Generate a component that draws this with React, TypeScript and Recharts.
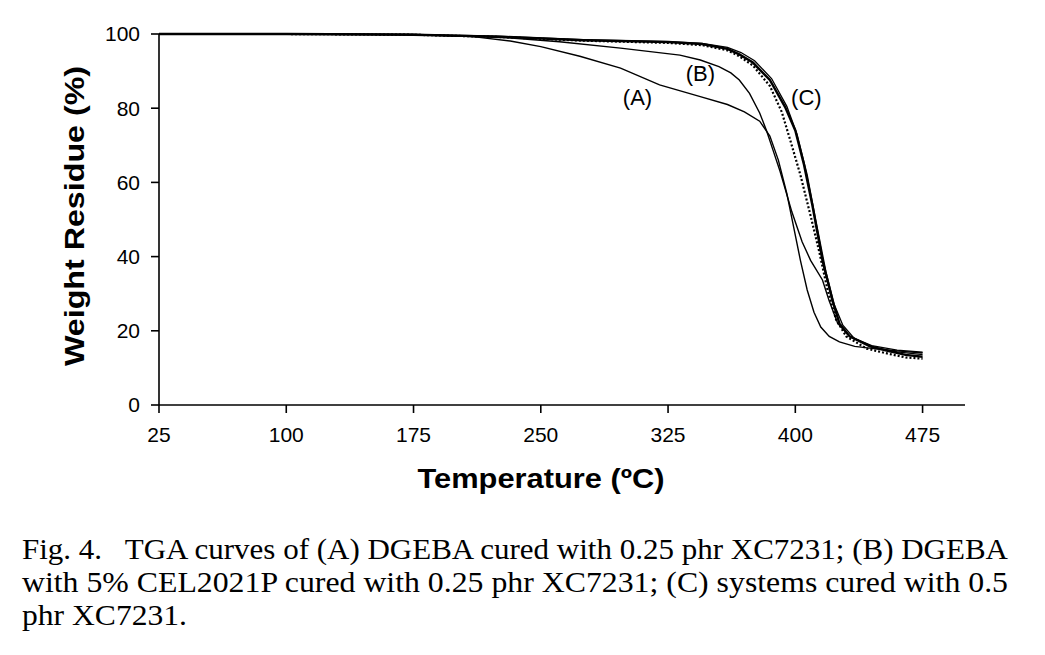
import { LineChart, Line, XAxis, YAxis, ReferenceDot } from "recharts"

// temperatures (°C) and weight residue (%)
const tempA = [25, 100, 175, 210, 232, 250, 273, 297, 320, 344, 360, 370, 379, 385, 390, 395, 399, 403, 407, 411, 415, 420, 426, 435, 450, 465, 475]
const weightA = [100, 100, 99.8, 99.3, 98.1, 96.6, 94, 90.8, 86.3, 83.1, 81, 79, 76.5, 72.5, 66, 57, 48, 39, 31, 25, 21, 18.5, 17, 15.8, 15, 14.4, 14]

const tempB = [25, 100, 175, 230, 261, 297, 332, 344, 355, 362, 367, 373, 379, 383, 387, 391, 398, 404, 409, 416, 420, 425, 432, 445, 460, 475]
const weightB = [100, 100, 99.9, 99, 97.9, 96.2, 94.3, 93, 91.2, 89.5, 87.6, 84, 78.7, 74, 68.5, 63, 52, 44, 39, 33.7, 28, 22, 18.5, 16, 14.8, 14.2]

const tempC1 = [25, 100, 175, 225, 275, 325, 345, 360, 367, 375, 385, 394, 400, 405, 410, 416, 422, 426, 432, 444, 455, 465, 475]
const weightC1 = [100, 100, 99.8, 99.3, 98.3, 97.8, 97.3, 96, 94.5, 92.3, 87.6, 80.3, 74, 65, 54, 39, 28, 22, 18.5, 15.8, 14.5, 13.5, 13]

const tempC2 = [25, 100, 175, 225, 275, 325, 345, 360, 367, 375, 385, 392, 397, 403, 409, 414, 419, 424, 430, 442, 455, 465, 475]
const weightC2 = [100, 100, 99.8, 99.2, 98.2, 97.6, 97, 95.6, 94, 91.5, 86, 79, 71.4, 62, 51, 41.5, 31, 23, 18.5, 15.2, 13.8, 12.8, 12.5]

const tempC3 = [25, 100, 175, 225, 275, 325, 345, 360, 368, 376, 386, 395, 401, 407, 412, 418, 423, 428, 435, 447, 460, 475]
const weightC3 = [100, 100, 99.9, 99.4, 98.5, 98, 97.5, 96.4, 95, 92.8, 88, 80.5, 73, 62, 50, 36, 27, 21.5, 17.8, 15.5, 14.3, 13.6]

const xTicks = [25, 100, 175, 250, 325, 400, 475]
const yTicks = [0, 20, 40, 60, 80, 100]

const curveLabels = [
  { t: 307, w: 83, text: "(A)" },
  { t: 344, w: 89.5, text: "(B)" },
  { t: 406.5, w: 83, text: "(C)" },
]

const captionLines = [
  "Fig. 4.   TGA curves of (A) DGEBA cured with 0.25 phr XC7231; (B) DGEBA",
  "with 5% CEL2021P cured with 0.25 phr XC7231; (C) systems cured with 0.5",
  "phr XC7231.",
]

const toRows = (t: number[], w: number[]) => t.map((v, i) => ({ t: v, w: w[i] }))

const SANS = "'Liberation Sans', Arial, sans-serif"
const SERIF = "'Liberation Serif', 'Times New Roman', serif"

export default function App() {
  const tickStyle = { fill: "#000", fontSize: 21, fontFamily: SANS }
  return (
    <div style={{ position: "absolute", left: 0, top: 0, width: 1045, height: 655, background: "#fff" }}>
      <LineChart width={1045} height={500} margin={{ top: 34, right: 80, bottom: 0, left: 0 }}>
        <XAxis
          type="number"
          dataKey="t"
          domain={[25, 500]}
          ticks={xTicks}
          allowDataOverflow
          height={95}
          tickSize={8}
          tickMargin={14}
          tick={tickStyle}
          axisLine={{ stroke: "#000", strokeWidth: 1.6 }}
          tickLine={{ stroke: "#000", strokeWidth: 1.6 }}
        />
        <YAxis
          type="number"
          domain={[0, 100]}
          ticks={yTicks}
          width={159}
          tickSize={8}
          tickMargin={11}
          tick={tickStyle}
          axisLine={{ stroke: "#000", strokeWidth: 1.6 }}
          tickLine={{ stroke: "#000", strokeWidth: 1.6 }}
        />
        <Line data={toRows(tempA, weightA)} dataKey="w" type="linear" stroke="#000" strokeWidth={1.4} dot={false} isAnimationActive={false} />
        <Line data={toRows(tempB, weightB)} dataKey="w" type="linear" stroke="#000" strokeWidth={1.4} dot={false} isAnimationActive={false} />
        <Line data={toRows(tempC3, weightC3)} dataKey="w" type="linear" stroke="#000" strokeWidth={1.3} dot={false} isAnimationActive={false} />
        <Line data={toRows(tempC2, weightC2)} dataKey="w" type="linear" stroke="#000" strokeWidth={2.2} strokeDasharray="2 2" dot={false} isAnimationActive={false} />
        <Line data={toRows(tempC1, weightC1)} dataKey="w" type="linear" stroke="#000" strokeWidth={2.4} dot={false} isAnimationActive={false} />
        {curveLabels.map((c) => (
          <ReferenceDot
            key={c.text}
            x={c.t}
            y={c.w}
            r={0}
            fill="none"
            stroke="none"
            label={{ value: c.text, position: "center", fill: "#000", fontSize: 22, fontFamily: SANS }}
          />
        ))}
      </LineChart>
      <svg width={1045} height={655} style={{ position: "absolute", left: 0, top: 0, pointerEvents: "none" }}>
        <text
          x={541}
          y={488}
          textAnchor="middle"
          fontFamily={SANS}
          fontWeight="bold"
          fontSize={28}
          textLength={247}
          lengthAdjust="spacingAndGlyphs"
        >
          Temperature (ºC)
        </text>
        <text
          transform="translate(84,216) rotate(-90)"
          textAnchor="middle"
          fontFamily={SANS}
          fontWeight="bold"
          fontSize={28}
          textLength={300}
          lengthAdjust="spacingAndGlyphs"
        >
          Weight Residue (%)
        </text>
        {captionLines.map((line, i) => (
          <text
            key={i}
            x={22}
            y={559 + i * 33}
            fontFamily={SERIF}
            fontSize={30}
            textLength={i === 2 ? 165 : 986}
            lengthAdjust="spacingAndGlyphs"
            style={{ whiteSpace: "pre" }}
          >
            {line}
          </text>
        ))}
      </svg>
    </div>
  )
}
